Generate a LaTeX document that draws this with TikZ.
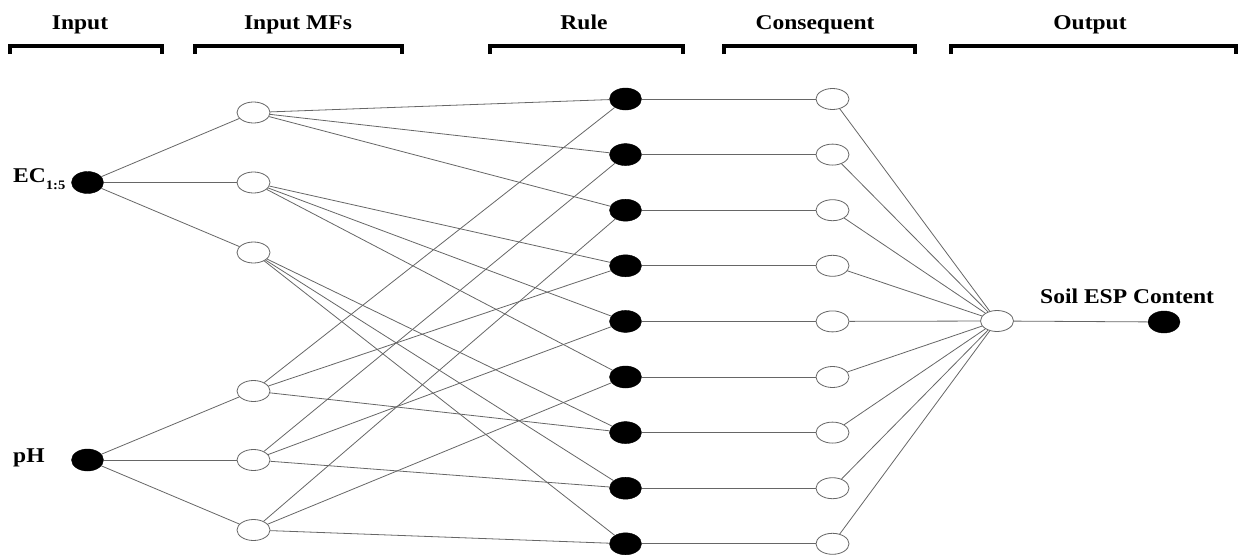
\documentclass[tikz,border=0pt]{standalone}
\usepackage{fontspec}
\setmainfont{Liberation Serif}
\newfontfamily\hdfont{Liberation Serif}[FakeStretch=1.12]
\usetikzlibrary{shapes.geometric}
\begin{document}
\begin{tikzpicture}[x=1pt,y=-1pt,
  onode/.style={ellipse,draw=black!60,line width=0.8pt,fill=white,minimum width=33pt,minimum height=21pt,inner sep=0pt},
  bnode/.style={ellipse,draw=black,fill=black,minimum width=32pt,minimum height=22pt,inner sep=0pt},
  conn/.style={draw=black!60,line width=0.8pt},
  hdr/.style={anchor=base,inner sep=0pt,font=\hdfont\bfseries\fontsize{21}{21}\selectfont},
  lbl/.style={anchor=base west,inner sep=0pt,font=\hdfont\bfseries\fontsize{21}{21}\selectfont},
  brk/.style={line width=3.5pt}]
\useasboundingbox (0,0) rectangle (1239,554);

% headers
\node[hdr] (h1) at (80,29) {Input};
\node[hdr] (h2) at (298,29) {Input MFs};
\node[hdr] (h3) at (584,29) {Rule};
\node[hdr] (h4) at (815,29) {Consequent};
\node[hdr] (h5) at (1090,29) {Output};

% brackets
\draw[brk] (10,54) -- (10,46) -- (162,46) -- (162,54);
\draw[brk] (195,54) -- (195,46) -- (402,46) -- (402,54);
\draw[brk] (490,54) -- (490,46) -- (683,46) -- (683,54);
\draw[brk] (724,54) -- (724,46) -- (915,46) -- (915,54);
\draw[brk] (951,54) -- (951,46) -- (1236,46) -- (1236,54);

% nodes
\node[bnode] (x1) at (87.5,182.5) {};
\node[bnode] (x2) at (87.5,460) {};
\node[onode] (a1) at (253.5,112.5) {};
\node[onode] (a2) at (253.5,182.5) {};
\node[onode] (a3) at (253.5,252.5) {};
\node[onode] (b1) at (253.5,391) {};
\node[onode] (b2) at (253.5,460) {};
\node[onode] (b3) at (253.5,530) {};
\foreach \i in {1,...,9} {
  \node[bnode] (r\i) at (625.5,{99+55.6*(\i-1)}) {};
  \node[onode] (c\i) at (832.5,{99+55.6*(\i-1)}) {};
}
\node[onode] (o) at (997,321) {};
\node[bnode] (y) at (1164,322) {};

% labels
\node[lbl] (lec) at (13,182) {EC\raisebox{-7pt}{\fontsize{13}{13}\selectfont 1:5}};
\node[lbl] (lph) at (13,462) {pH};
\node[lbl] (lout) at (1040,303) {Soil ESP Content};

% connectors
\foreach \a in {a1,a2,a3} \draw[conn] (x1) -- (\a);
\foreach \b in {b1,b2,b3} \draw[conn] (x2) -- (\b);
\foreach \r in {r1,r2,r3} \draw[conn] (a1) -- (\r);
\foreach \r in {r4,r5,r6} \draw[conn] (a2) -- (\r);
\foreach \r in {r7,r8,r9} \draw[conn] (a3) -- (\r);
\foreach \r in {r1,r4,r7} \draw[conn] (b1) -- (\r);
\foreach \r in {r2,r5,r8} \draw[conn] (b2) -- (\r);
\foreach \r in {r3,r6,r9} \draw[conn] (b3) -- (\r);
\foreach \i in {1,...,9} {
  \draw[conn] (r\i) -- (c\i);
  \draw[conn] (c\i) -- (o);
}
\draw[conn] (o) -- (y);
\end{tikzpicture}
\end{document}
